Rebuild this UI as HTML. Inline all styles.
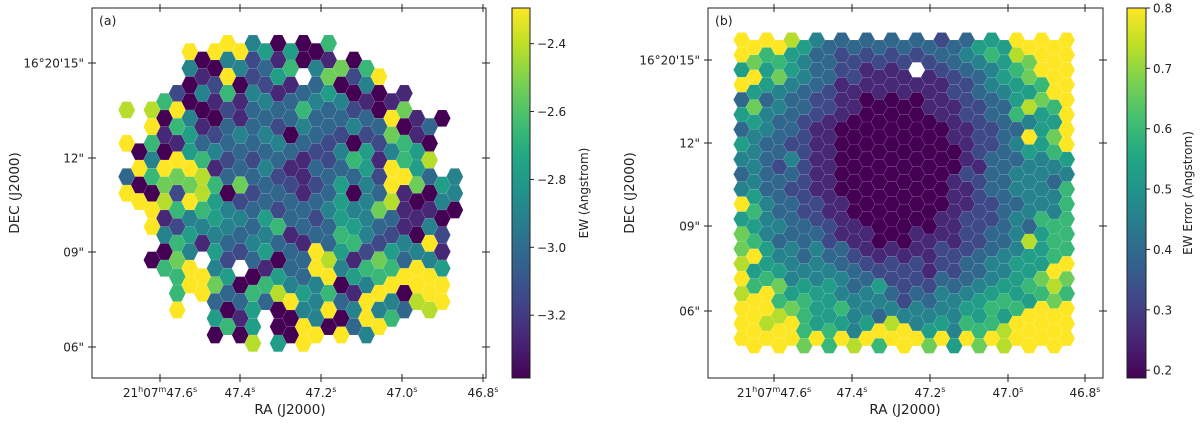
<!DOCTYPE html>
<html><head><meta charset="utf-8"><style>
html,body{margin:0;padding:0;background:#fff;}
svg{display:block;font-family:"DejaVu Sans","Liberation Sans",sans-serif;}
</style></head><body>
<svg id="fig" width="1200" height="424" viewBox="0 0 1200 424" xmlns="http://www.w3.org/2000/svg">
<g id="pa"></g>
<g id="pb"></g>
</svg>
<script>
// ---- data: levels 0-9 per hex cell ('.' = no data), rows top->bottom, 27 columns ----
const ewRows = [
".....9.9994505006..........",
".....400442316041706.......",
".....012902251.370249......",
"...62041614413345401011....",
"8.8094002133336333230971.0.",
"..91651234342043324237013..",
"9060153433334332240524650..",
".949996123243113236519658..",
"306777863733221235342997354",
"990829850223331335043810044",
"..9164654435233245447311100",
"..942544433461333654321042.",
"...06415324533193562254491.",
"..0679.42.3103398416763945.",
"....6997500654349054699999.",
"....6.93336389546319940899.",
"....9..5015.00449049463.8..",
".......0605.009909349......",
"..........8.5.9............"
];
const errRows = [
"999985433333333323355599999",
"976654332222222233446587999",
"59575433221111.122334567999",
"955443321111111112234455699",
"373433221100000111223358769",
"554332211000000011223364559",
"344332110000000001122339579",
"543322110000000000122345569",
"443242110000000000113334445",
"343332110000000001223344434",
"453322110000000001123344446",
"964332211000000001122334446",
"554433221100000011222343666",
"764333321110001111223348566",
"795443433211111122233445566",
"855544443322222122334455599",
"966745454335222233344556787",
"899656554444323344455655676",
"999876556443444444556569999",
"998996565459894554666899999",
"999997969896999795979899999"
];
const ewRange = [-3.385, -2.295];
const errRange = [0.187, 0.8];
const ewTicks = [-2.4, -2.6, -2.8, -3.0, -3.2];
const ewTickLabels = ["\u22122.4","\u22122.6","\u22122.8","\u22123.0","\u22123.2"];
const errTicks = [0.8, 0.7, 0.6, 0.5, 0.4, 0.3, 0.2];
const errTickLabels = ["0.8","0.7","0.6","0.5","0.4","0.3","0.2"];
const decLabels = ["16\u00b020'15\"", "12\"", "09\"", "06\""];
const raMain = ["21","47.4","47.2","47.0","46.8"];

const NS = "http://www.w3.org/2000/svg";
function mk(tag, attrs, parent){const e=document.createElementNS(NS,tag);for(const k in attrs)e.setAttribute(k,attrs[k]);if(parent)parent.appendChild(e);return e;}

const VIR = ["#440154","#482475","#414487","#355f8d","#2a788e","#21918c","#22a884","#44bf70","#7ad151","#bddf26","#fde725"];
function hex2rgb(h){return [parseInt(h.substr(1,2),16),parseInt(h.substr(3,2),16),parseInt(h.substr(5,2),16)];}
function viridis(t){t=Math.max(0,Math.min(1,t));const p=t*(VIR.length-1);const i=Math.min(VIR.length-2,Math.floor(p));const f=p-i;const a=hex2rgb(VIR[i]),b=hex2rgb(VIR[i+1]);return "rgb("+a.map((v,k)=>Math.round(v+(b[k]-v)*f)).join(",")+")";}

function levelToValue(ch, rng){return rng[0] + (parseInt(ch,10)/9)*(rng[1]-rng[0]);}

function drawPanel(g, cfg){
  const {rows, rng, x0, colDx, y0, rowDy, left, right, top, bottom} = cfg;
  const w = colDx*4/3, h = rowDy;
  for(let r=0;r<rows.length;r++){
    for(let c=0;c<rows[r].length;c++){
      const ch=rows[r][c]; if(ch==='.') continue;
      const v=levelToValue(ch,rng);
      const t=(v-rng[0])/(rng[1]-rng[0]);
      const cx=x0+c*colDx, cy=y0+r*rowDy+(c%2?rowDy/2:0);
      const pts=[[cx-w/2,cy],[cx-w/4,cy-h/2],[cx+w/4,cy-h/2],[cx+w/2,cy],[cx+w/4,cy+h/2],[cx-w/4,cy+h/2]].map(p=>p[0].toFixed(2)+","+p[1].toFixed(2)).join(" ");
      const poly=mk("polygon",{points:pts,fill:viridis(t),stroke:"rgba(255,255,255,0.18)","stroke-width":"0.5"},g);
      
      
    }
  }
  const frame=mk("rect",{x:left,y:top,width:right-left,height:bottom-top,fill:"none",stroke:"#222","stroke-width":"1"},g);
  
  
}

function axisDecor(g, cfg){
  const {left,right,top,bottom,xt,yt,label,yLabelX,xLabelCx} = cfg;
  const tg=mk("g",{stroke:"#222","stroke-width":"1"},g);
  xt.forEach(x=>{mk("line",{x1:x,y1:bottom-4,x2:x,y2:bottom+4},tg);mk("line",{x1:x,y1:top-4,x2:x,y2:top+4},tg);});
  yt.forEach(y=>{mk("line",{x1:left-4,y1:y,x2:left+4,y2:y},tg);mk("line",{x1:right-4,y1:y,x2:right+4,y2:y},tg);});
  xt.forEach((x,i)=>{
    const t=mk("text",{x:x,y:bottom+19,"font-size":"12","text-anchor":"middle",fill:"#222"},g);
    
    
    if(i===0){
      const a=mk("tspan",{},t);a.textContent="21";
      const b=mk("tspan",{"font-size":"8",dy:"-5"},t);b.textContent="h";
      const c=mk("tspan",{dy:"5"},t);c.textContent="07";
      const d=mk("tspan",{"font-size":"8",dy:"-5"},t);d.textContent="m";
      const e=mk("tspan",{dy:"5"},t);e.textContent="47.6";
      const f=mk("tspan",{"font-size":"8",dy:"-5"},t);f.textContent="s";
    } else {
      const a=mk("tspan",{},t);a.textContent=raMain[i];
      const b=mk("tspan",{"font-size":"8",dy:"-5"},t);b.textContent="s";
    }
  });
  yt.forEach((y,i)=>{
    const t=mk("text",{x:left-8,y:y+4.5,"font-size":"12","text-anchor":"end",fill:"#222"},g);
    
    
    t.textContent=decLabels[i];
  });
  const xl=mk("text",{x:xLabelCx,y:bottom+36,"font-size":"13.5","text-anchor":"middle",fill:"#222"},g);
  
  
  xl.textContent="RA (J2000)";
  const cy=(top+bottom)/2;
  const yl=mk("text",{x:yLabelX,y:cy,"font-size":"13.5","text-anchor":"middle",fill:"#222",transform:"rotate(-90 "+yLabelX+" "+cy+")"},g);
  
  
  yl.textContent="DEC (J2000)";
  const pl=mk("text",{x:left+7,y:top+17,"font-size":"12.5",fill:"#222"},g);
  
  
  pl.textContent=label;
}

function colorbar(g, cfg){
  const {x,w,top,bottom,rng,ticks,labels,title,titleX,id} = cfg;
  const defs=mk("defs",{},g);
  const lg=mk("linearGradient",{id:id,x1:"0",y1:"1",x2:"0",y2:"0"},defs);
  VIR.forEach((c,i)=>mk("stop",{offset:(i/(VIR.length-1)).toFixed(3),"stop-color":c},lg));
  const bar=mk("rect",{x:x,y:top,width:w,height:bottom-top,fill:"url(#"+id+")",stroke:"#222","stroke-width":"1"},g);
  
  
  ticks.forEach((v,i)=>{
    const y=bottom-(v-rng[0])/(rng[1]-rng[0])*(bottom-top);
    mk("line",{x1:x+w,y1:y,x2:x+w+4,y2:y,stroke:"#222","stroke-width":"1"},g);
    const t=mk("text",{x:x+w+7,y:y+4.5,"font-size":"12",fill:"#222"},g);
    
    
    t.textContent=labels[i];
  });
  const cy=(top+bottom)/2;
  const tt=mk("text",{x:titleX,y:cy,"font-size":"12","text-anchor":"middle",fill:"#222",transform:"rotate(-90 "+titleX+" "+cy+")"},g);
  
  
  tt.textContent=title;
}

const pa=document.getElementById("pa"), pb=document.getElementById("pb");
drawPanel(pa,{rows:ewRows,rng:ewRange,x0:126.7,colDx:12.62,y0:43.3,rowDy:16.67,left:92,right:486,top:8,bottom:378});
axisDecor(pa,{left:92,right:486,top:8,bottom:378,xt:[160,240,321,402,483],yt:[63,158,252,347],label:"(a)",yLabelX:19,xLabelCx:290});
colorbar(pa,{x:512,w:18,top:8,bottom:378,rng:ewRange,ticks:ewTicks,labels:ewTickLabels,title:"EW (Angstrom)",titleX:588,id:"vg1"});

drawPanel(pb,{rows:errRows,rng:errRange,x0:741.7,colDx:12.5,y0:40,rowDy:14.92,left:708,right:1103,top:8,bottom:378});
axisDecor(pb,{left:708,right:1103,top:8,bottom:378,xt:[774,852,930,1008,1085],yt:[60,143,226,311],label:"(b)",yLabelX:634,xLabelCx:905});
colorbar(pb,{x:1127,w:19,top:8,bottom:378,rng:errRange,ticks:errTicks,labels:errTickLabels,title:"EW Error (Angstrom)",titleX:1192,id:"vg2"});
</script>
</body></html>
